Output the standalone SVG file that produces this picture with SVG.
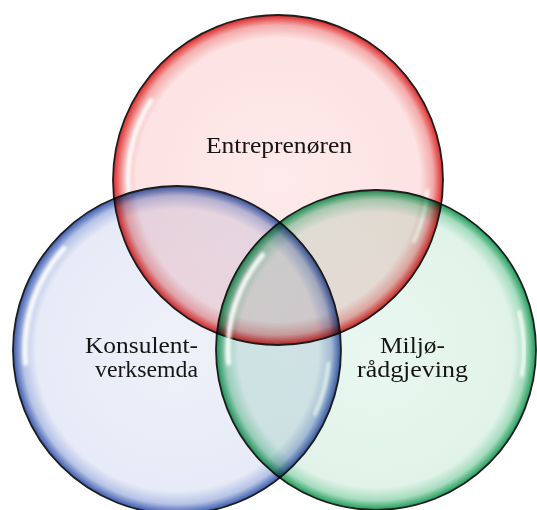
<svg xmlns="http://www.w3.org/2000/svg" width="537" height="510" viewBox="0 0 537 510">
  <style>
    .bubble { stroke: #1e1e1e; stroke-width: 1.8; mix-blend-mode: multiply; }
    .hl { fill: none; stroke: #ffffff; stroke-linecap: round; filter: url(#blur); opacity: 0.9; }
    .lbl { font-family: "Liberation Serif", "Times New Roman", serif; font-size: 24px; fill: #151515; }
  </style>
  <defs>
    <filter id="blur" x="-20%" y="-20%" width="140%" height="140%">
      <feGaussianBlur stdDeviation="1.4"/>
    </filter>
    <radialGradient id="gRed" cx="50%" cy="50%" r="50%">
      <stop offset="0" stop-color="#feeaea"/>
      <stop offset="0.86" stop-color="#fde3e3"/>
      <stop offset="0.94" stop-color="#f4abab"/>
      <stop offset="1" stop-color="#dc2626"/>
    </radialGradient>
    <radialGradient id="gBlue" cx="50%" cy="50%" r="50%">
      <stop offset="0" stop-color="#eef1f9"/>
      <stop offset="0.86" stop-color="#e7ebf7"/>
      <stop offset="0.94" stop-color="#b6c3e6"/>
      <stop offset="1" stop-color="#3858ac"/>
    </radialGradient>
    <radialGradient id="gGreen" cx="50%" cy="50%" r="50%">
      <stop offset="0" stop-color="#e9f7f0"/>
      <stop offset="0.86" stop-color="#e1f3e9"/>
      <stop offset="0.94" stop-color="#a6dcbf"/>
      <stop offset="1" stop-color="#1c9a56"/>
    </radialGradient>
  </defs>
  <rect width="537" height="510" fill="#ffffff"/>

  <g id="entreprenoren">
    <circle class="bubble" cx="278" cy="180" r="165" fill="url(#gRed)"/>
    <path class="hl" stroke-width="5" d="M128.6,193 A150,150 0 0 1 150.8,100.5"/>
    <path class="hl" stroke-width="3.5" d="M427.4,191 A150,150 0 0 1 413.9,241.4"/>
    <text class="lbl" x="206" y="153" textLength="146" lengthAdjust="spacingAndGlyphs">Entreprenøren</text>
  </g>

  <g id="konsulentverksemda">
    <circle class="bubble" cx="177" cy="350" r="164" fill="url(#gBlue)"/>
    <path class="hl" stroke-width="5" d="M25.6,363.2 A152,152 0 0 1 64,248.3"/>
    <path class="hl" stroke-width="3.5" d="M328.4,363.2 A152,152 0 0 1 314.8,414.2"/>
    <text class="lbl" x="85" y="353" textLength="113" lengthAdjust="spacingAndGlyphs">Konsulent-</text>
    <text class="lbl" x="95" y="377" textLength="103" lengthAdjust="spacingAndGlyphs">verksemda</text>
  </g>

  <g id="miljoradgjeving">
    <circle class="bubble" cx="376" cy="350" r="160" fill="url(#gGreen)"/>
    <path class="hl" stroke-width="5" d="M228.6,363 A148,148 0 0 1 262.6,255"/>
    <path class="hl" stroke-width="3.5" d="M519,312 A148,148 0 0 1 521.8,375.7"/>
    <text class="lbl" x="380" y="353" textLength="65" lengthAdjust="spacingAndGlyphs">Miljø-</text>
    <text class="lbl" x="357" y="377" textLength="111" lengthAdjust="spacingAndGlyphs">rådgjeving</text>
  </g>

  <g id="connectors"></g>
</svg>
